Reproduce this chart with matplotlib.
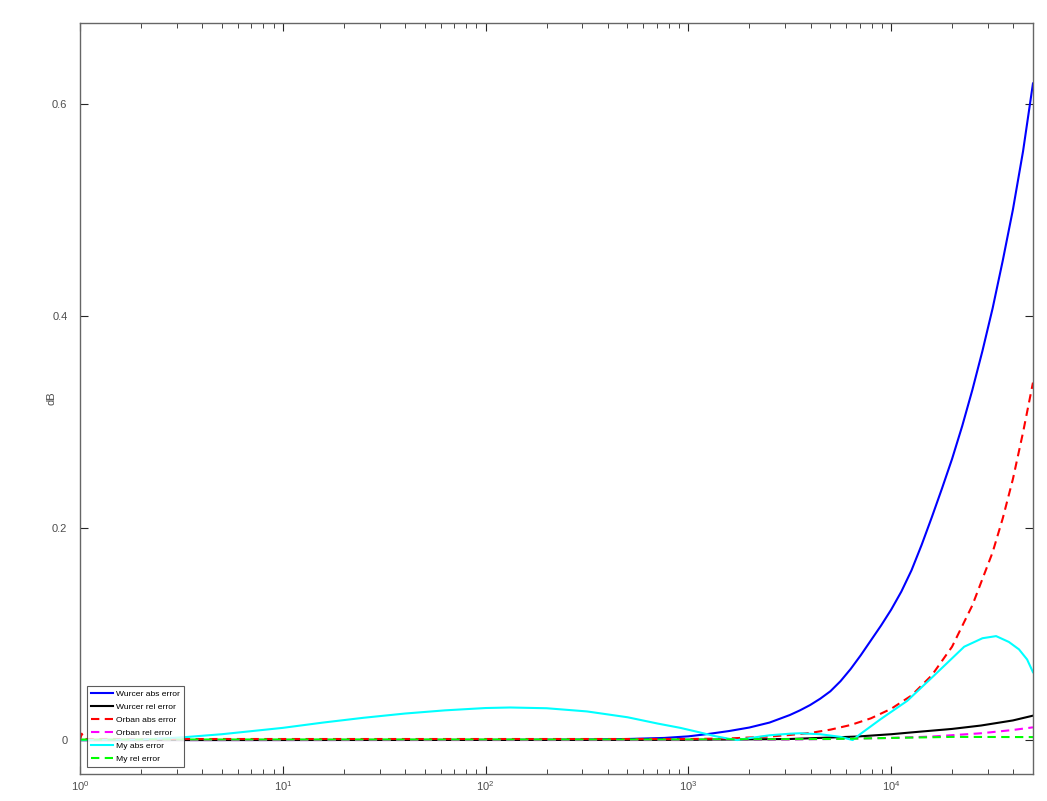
import matplotlib
matplotlib.use("Agg")
import matplotlib.pyplot as plt
import numpy as np

plt.rcParams["font.family"] = ["Liberation Sans", "DejaVu Sans"]

# values (Hz, dB)
f_wabs = [1, 100, 300, 500, 760, 1000, 1260, 1585, 1995, 2512, 3162, 3548, 3981,
          4467, 5012, 5623, 6310, 7079, 7943, 8913, 10000, 11220, 12589, 14125,
          15849, 17783, 19953, 22387, 25119, 28184, 31623, 35481, 39811, 44668, 50000]
wurcer_abs = [0, 0.0001, 0.0004, 0.001, 0.002, 0.0035, 0.0058, 0.0085, 0.0118, 0.0165,
              0.0236, 0.028, 0.033, 0.039, 0.046, 0.0555, 0.067, 0.080, 0.094, 0.108,
              0.123, 0.140, 0.160, 0.184, 0.210, 0.237, 0.265, 0.296, 0.330, 0.367,
              0.407, 0.452, 0.500, 0.555, 0.619]

f_wrel = [1, 1000, 3162, 6760, 10000, 12900, 19953, 27700, 39811, 50000]
wurcer_rel = [0, 0.0002, 0.001, 0.0033, 0.0055, 0.0074, 0.0105, 0.0137, 0.0185, 0.023]

f_oabs = [1, 1.02, 1.05, 100, 1000, 1585, 2512, 3162, 3981, 5012, 6310, 7943, 10000,
          12589, 15849, 19953, 25119, 31623, 35481, 39811, 44668, 50000]
orban_abs = [0, 0.006, 0.001, 0.001, 0.001, 0.0015, 0.0033, 0.0048, 0.0067, 0.0098,
             0.0142, 0.0205, 0.0295, 0.042, 0.061, 0.088, 0.127, 0.177, 0.209, 0.246,
             0.290, 0.337]

f_orel = [1, 1000, 3162, 5012, 10000, 15849, 27700, 39811, 50000]
orban_rel = [0, 0.0, 0.0005, 0.001, 0.002, 0.0033, 0.0064, 0.0095, 0.012]

f_myabs = [1, 2, 3.16, 5, 10, 15.8, 25, 40, 63, 100, 132, 200, 316, 501, 708, 912,
           1122, 1330, 1585, 1740, 1995, 2512, 3162, 3548, 4467, 5623, 6457, 7079,
           8913, 12000, 16300, 22900, 28184, 32900, 38019, 42658, 46774, 50000]
my_abs = [0, 0.0005, 0.0025, 0.0055, 0.0115, 0.0165, 0.021, 0.025, 0.028, 0.0302,
          0.0307, 0.030, 0.027, 0.0215, 0.0155, 0.0115, 0.0075, 0.004, 0.0012, 0.0,
          0.0018, 0.0045, 0.006, 0.0064, 0.0055, 0.003, 0.0, 0.006, 0.020, 0.037,
          0.061, 0.088, 0.096, 0.098, 0.0925, 0.0855, 0.076, 0.064]

f_myrel = [1, 1000, 5000, 10000, 20000, 50000]
my_rel = [0.0005, 0.0005, 0.001, 0.002, 0.003, 0.0028]

fig = plt.figure(figsize=(10.47, 8.01), dpi=100)
ax = fig.add_axes([0.0764, 0.0337, 0.9102, 0.9376])

dash = (0, (4, 2.6))
ax.semilogx(f_wabs, wurcer_abs, color=(0, 0, 1), lw=1.5, label="Wurcer abs error")
ax.semilogx(f_wrel, wurcer_rel, color="k", lw=1.5, label="Wurcer rel error")
ax.semilogx(f_oabs, orban_abs, color=(1, 0, 0), lw=1.5, ls=dash, label="Orban abs error")
ax.semilogx(f_orel, orban_rel, color=(1, 0, 1), lw=1.5, ls=dash, label="Orban rel error")
ax.semilogx(f_myabs, my_abs, color=(0, 1, 1), lw=1.5, label="My abs error")
ax.semilogx(f_myrel, my_rel, color=(0, 1, 0), lw=1.5, ls=dash, label="My rel error")

ax.set_xlim(1, 50000)
ax.set_ylim(-0.032, 0.676)
ax.set_yticks([0, 0.2, 0.4, 0.6])
ax.set_yticklabels(["0", "0.2", "0.4", "0.6"])

for s in ax.spines.values():
    s.set_color("0.4")
    s.set_linewidth(1.0)
ax.tick_params(which="both", direction="in", top=True, right=True,
               colors="0.15", labelcolor="0.3", labelsize=8)
ax.tick_params(which="major", length=6)
ax.tick_params(axis="y", pad=9)
ax.tick_params(which="minor", length=3.5)

ax.set_ylabel("dB", fontsize=8, color="0.3", labelpad=-3)
ax.set_xlabel("Hz", fontsize=8, color="0.3", labelpad=8)

leg = ax.legend(loc="lower left", fontsize=6.1, handlelength=2.5, handletextpad=0.4,
                borderpad=0.5, labelspacing=0.6, fancybox=False, borderaxespad=0,
                bbox_to_anchor=(0.0075, 0.0093))
leg.get_frame().set_edgecolor("0.2")
leg.get_frame().set_linewidth(0.8)

fig.savefig("out.png", dpi=100)
